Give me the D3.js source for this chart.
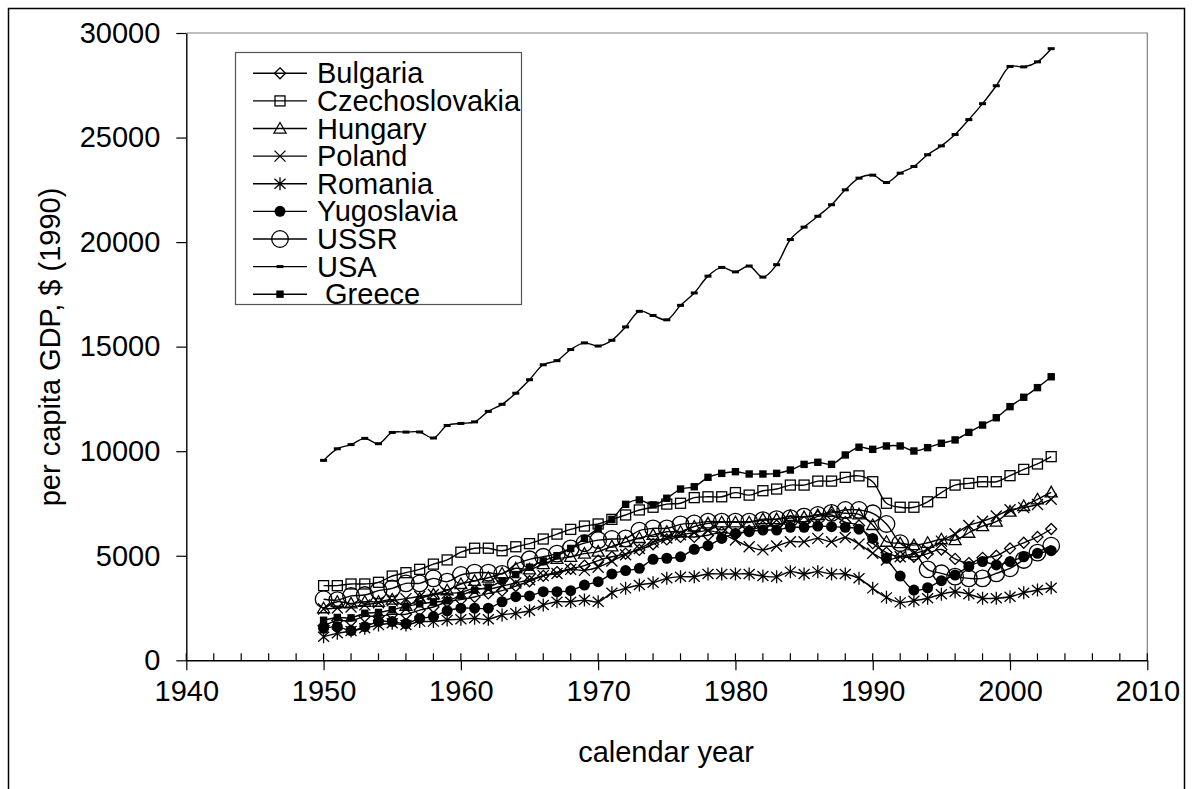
<!DOCTYPE html>
<html>
<head>
<meta charset="utf-8">
<script src="https://cdnjs.cloudflare.com/ajax/libs/d3/7.8.5/d3.min.js"></script>
<style>
  body { margin: 0; background: #fff; }
  text { font-family: "Liberation Sans", Arial, sans-serif; fill: #000; }
</style>
</head>
<body>
<svg id="chart" width="1192" height="789"></svg>
<script>
// years on the x axis
const years = d3.range(1950, 2004);

// per capita GDP, 1990 dollars, 1950..2003
const bulgaria = [1650, 1900, 1880, 2100, 2100, 2200, 2200, 2400, 2550, 2800,
  2900, 3030, 3200, 3330, 3550, 3780, 4040, 4220, 4380, 4530,
  4770, 4950, 5100, 5280, 5550, 5780, 5900, 5900, 5980, 6120,
  6040, 6200, 6400, 6450, 6650, 6620, 6880, 6950, 6600, 6450,
  5600, 5150, 4950, 4950, 5100, 5300, 4850, 4650, 4900, 5000,
  5350, 5620, 5900, 6280];
const czechoslovakia = [3570, 3570, 3650, 3650, 3730, 4030, 4190, 4350, 4600, 4800,
  5170, 5360, 5360, 5240, 5430, 5580, 5800, 6035, 6260, 6420,
  6520, 6740, 6950, 7190, 7320, 7470, 7510, 7780, 7820, 7820,
  8020, 7900, 8110, 8190, 8380, 8380, 8570, 8570, 8750, 8820,
  8540, 7510, 7320, 7320, 7580, 8020, 8380, 8460, 8540, 8540,
  8830, 9130, 9390, 9740];
const hungary = [2490, 2800, 2720, 2800, 2800, 2900, 2600, 2950, 3150, 3350,
  3650, 3800, 3950, 4150, 4400, 4350, 4600, 4850, 4950, 5100,
  5200, 5450, 5650, 5850, 6000, 6150, 6150, 6400, 6550, 6600,
  6600, 6600, 6750, 6750, 6900, 6850, 6950, 7100, 7030, 6980,
  6470, 5670, 5600, 5510, 5620, 5790, 5750, 6100, 6420, 6630,
  7110, 7380, 7700, 8030];
const poland = [2450, 2500, 2550, 2650, 2750, 2850, 2950, 3050, 3150, 3200,
  3250, 3450, 3400, 3550, 3700, 3850, 4050, 4150, 4350, 4300,
  4450, 4750, 5050, 5350, 5650, 5850, 6000, 6100, 6200, 6050,
  5750, 5430, 5280, 5470, 5670, 5670, 5830, 5670, 5870, 5560,
  5120, 4800, 4950, 5100, 5300, 5700, 6050, 6450, 6650, 6900,
  7200, 7300, 7450, 7700];
const romania = [1130, 1290, 1400, 1530, 1690, 1770, 1690, 1850, 1850, 1930,
  1960, 2010, 1960, 2170, 2250, 2370, 2640, 2800, 2800, 2880,
  2800, 3230, 3440, 3600, 3710, 3920, 4000, 4000, 4130, 4130,
  4130, 4130, 4030, 4000, 4240, 4130, 4240, 4130, 4130, 3920,
  3440, 3010, 2770, 2850, 2970, 3160, 3280, 3160, 2970, 2970,
  3040, 3230, 3360, 3470];
const yugoslavia = [1530, 1610, 1420, 1610, 1850, 1850, 1750, 2000, 2090, 2370,
  2490, 2490, 2490, 2800, 3040, 3080, 3280, 3280, 3330, 3600,
  3760, 4130, 4290, 4400, 4830, 4880, 4950, 5310, 5480, 5830,
  6070, 6150, 6230, 6230, 6360, 6360, 6420, 6390, 6360, 6270,
  5830, 4880, 4030, 3360, 3470, 3810, 4080, 4480, 4720, 4560,
  4720, 4950, 5120, 5240];
const ussr = [2920, 2880, 3080, 3120, 3330, 3440, 3680, 3680, 3920, 3760,
  4080, 4190, 4190, 4130, 4600, 4830, 4950, 5100, 5350, 5600,
  5750, 5800, 5830, 6200, 6310, 6310, 6500, 6550, 6630, 6630,
  6630, 6630, 6700, 6750, 6800, 6870, 6950, 7050, 7190, 7190,
  7030, 6520, 5600, 5200, 4350, 4160, 4000, 3920, 3920, 4160,
  4400, 4800, 5150, 5480];
const usa = [9561, 10116, 10316, 10613, 10359, 10897, 10914, 10920, 10631, 11230,
  11328, 11402, 11905, 12242, 12773, 13419, 14134, 14330, 14863, 15179,
  15030, 15304, 15944, 16689, 16491, 16284, 16975, 17567, 18373, 18789,
  18577, 18856, 18325, 18920, 20123, 20717, 21236, 21788, 22499, 23059,
  23201, 22849, 23298, 23616, 24178, 24603, 25146, 25857, 26620, 27478,
  28400, 28380, 28620, 29250];
const greece = [1915, 2050, 2030, 2250, 2290, 2420, 2580, 2700, 2780, 2850,
  3100, 3350, 3500, 3800, 4100, 4450, 4750, 5000, 5350, 5830,
  6310, 6740, 7460, 7670, 7430, 7750, 8190, 8300, 8750, 8940,
  9020, 8910, 8910, 8940, 9100, 9370, 9470, 9370, 9820, 10190,
  10090, 10250, 10250, 10010, 10170, 10380, 10540, 10900, 11250, 11600,
  12130, 12580, 13040, 13560];

const seriesNames = ["Bulgaria", "Czechoslovakia", "Hungary", "Poland", "Romania",
  "Yugoslavia", "USSR", "USA", " Greece"];
const seriesValues = [bulgaria, czechoslovakia, hungary, poland, romania,
  yugoslavia, ussr, usa, greece];
const seriesMarkers = ["diamond", "square", "triangle", "cross", "star",
  "dot", "ring", "dash", "block"];

const xTicks = [1940, 1950, 1960, 1970, 1980, 1990, 2000, 2010];
const yTicks = [0, 5000, 10000, 15000, 20000, 25000, 30000];

const drawMarker = (g, type, cx, cy) => {
  let m = g.append("g").attr("transform", "translate(" + cx + "," + cy + ")");
  let sw = 1.3;
  if (type == "diamond") {
    m.append("path").attr("d", "M0,-5.5L5.5,0L0,5.5L-5.5,0Z")
      .attr("fill", "none").attr("stroke", "#000").attr("stroke-width", sw);
  } else if (type == "square") {
    m.append("rect").attr("x", -5).attr("y", -5).attr("width", 10).attr("height", 10)
      .attr("fill", "none").attr("stroke", "#000").attr("stroke-width", sw);
  } else if (type == "triangle") {
    m.append("path").attr("d", "M0,-6L6,4.5L-6,4.5Z")
      .attr("fill", "none").attr("stroke", "#000").attr("stroke-width", sw);
  } else if (type == "cross") {
    m.append("path").attr("d", "M-5.5,-5.5L5.5,5.5M-5.5,5.5L5.5,-5.5")
      .attr("stroke", "#000").attr("stroke-width", sw);
  } else if (type == "star") {
    m.append("path").attr("d", "M-5.5,-5L5.5,5M-5.5,5L5.5,-5M0,-6.5L0,6.5")
      .attr("stroke", "#000").attr("stroke-width", sw);
  } else if (type == "dot") {
    m.append("circle").attr("r", 5.5).attr("fill", "#000");
  } else if (type == "ring") {
    m.append("circle").attr("r", 8.3)
      .attr("fill", "none").attr("stroke", "#000").attr("stroke-width", sw);
  } else if (type == "dash") {
    m.append("rect").attr("x", -3.5).attr("y", -1.5).attr("width", 7).attr("height", 3)
      .attr("fill", "#000");
  } else if (type == "block") {
    m.append("rect").attr("x", -3.7).attr("y", -3.7).attr("width", 7.4).attr("height", 7.4)
      .attr("fill", "#000");
  }
};

const drawChart = () => {
  let svg = d3.select("#chart");

  // outer frame
  svg.append("rect")
    .attr("x", 8.5).attr("y", 8.5)
    .attr("width", 1176).attr("height", 800)
    .attr("fill", "#fff").attr("stroke", "#000").attr("stroke-width", 1.5);

  let xScale = d3.scaleLinear().domain([1940, 2010]).range([186.3, 1147.3]);
  let yScale = d3.scaleLinear().domain([0, 30000]).range([660.3, 33]);

  // plot area top/right border
  svg.append("path")
    .attr("d", "M" + xScale(1940) + "," + yScale(30000) + "H" + xScale(2010) + "V" + yScale(0))
    .attr("fill", "none").attr("stroke", "#808080").attr("stroke-width", 1.2);

  // x axis
  let xAxis = d3.axisBottom(xScale).tickValues(xTicks).tickSizeInner(10).tickSizeOuter(0)
    .tickPadding(10).tickFormat(d3.format("d"));
  let gx = svg.append("g")
    .attr("transform", "translate(0," + yScale(0) + ")")
    .call(xAxis);
  gx.select(".domain").attr("stroke", "#000").attr("stroke-width", 1.4);
  gx.selectAll(".tick line").attr("stroke", "#000").attr("stroke-width", 1.2);
  gx.selectAll(".tick text").attr("font-size", "29px")
    .attr("font-family", "Liberation Sans, Arial, sans-serif").attr("fill", "#000");

  // minor (inside) ticks every 2 years
  gx.selectAll(".minor")
    .data(d3.range(1940, 2011, 2))
    .enter().append("line")
    .attr("class", "minor")
    .attr("x1", (d) => xScale(d)).attr("x2", (d) => xScale(d))
    .attr("y1", 0).attr("y2", -7)
    .attr("stroke", "#000").attr("stroke-width", 1.2);

  // y axis
  let yAxis = d3.axisLeft(yScale).tickValues(yTicks).tickSizeInner(10).tickSizeOuter(0)
    .tickPadding(16).tickFormat(d3.format("d"));
  let gy = svg.append("g")
    .attr("transform", "translate(" + xScale(1940) + ",0)")
    .call(yAxis);
  gy.select(".domain").attr("stroke", "#000").attr("stroke-width", 1.4);
  gy.selectAll(".tick line").attr("stroke", "#000").attr("stroke-width", 1.2);
  gy.selectAll(".tick text").attr("font-size", "29px")
    .attr("font-family", "Liberation Sans, Arial, sans-serif").attr("fill", "#000");

  // axis titles
  svg.append("text")
    .attr("x", 666).attr("y", 762)
    .attr("text-anchor", "middle").attr("font-size", "29px")
    .text("calendar year");
  svg.append("text")
    .attr("transform", "translate(60,347) rotate(-90)")
    .attr("text-anchor", "middle").attr("font-size", "29px")
    .text("per capita GDP, $ (1990)");

  // series
  let line = d3.line()
    .x((d) => xScale(d[0]))
    .y((d) => yScale(d[1]))
    .curve(d3.curveCatmullRom.alpha(0.5));

  let plot = svg.append("g");
  seriesValues.forEach((vals, i) => {
    let pts = vals.map((v, j) => [years[j], v]);
    plot.append("path")
      .datum(pts)
      .attr("d", line)
      .attr("fill", "none").attr("stroke", "#000").attr("stroke-width", 1.4);
    pts.forEach((p) => drawMarker(plot, seriesMarkers[i], xScale(p[0]), yScale(p[1])));
  });

  // legend
  let lg = svg.append("g");
  lg.append("rect")
    .attr("x", 235.5).attr("y", 52.5).attr("width", 286).attr("height", 252)
    .attr("fill", "#fff").attr("stroke", "#555").attr("stroke-width", 1.2);
  let rowY = d3.scaleLinear().domain([0, 8]).range([73.3, 294.2]);
  seriesNames.forEach((name, i) => {
    let cy = rowY(i);
    lg.append("line")
      .attr("x1", 253).attr("x2", 307).attr("y1", cy).attr("y2", cy)
      .attr("stroke", "#000").attr("stroke-width", 1.4);
    drawMarker(lg, seriesMarkers[i], 280, cy);
    lg.append("text")
      .attr("x", 317).attr("y", cy + 10)
      .attr("font-size", "29px")
      .style("white-space", "pre")
      .text(name);
  });
};

drawChart();
</script>
</body>
</html>
